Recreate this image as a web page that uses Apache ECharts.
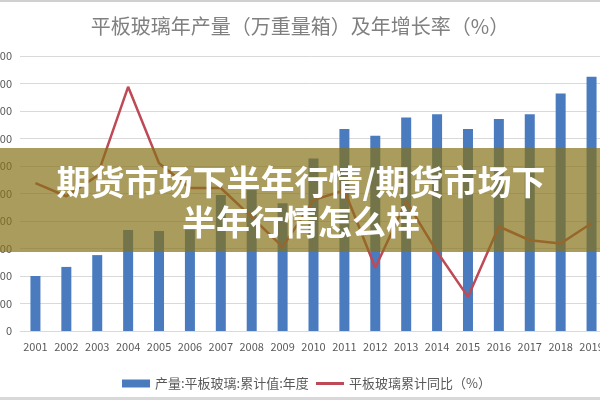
<!DOCTYPE html>
<html>
<head>
<meta charset="utf-8">
<script src="https://cdn.jsdelivr.net/npm/echarts@6/dist/echarts.min.js"></script>
<style>
  html, body { margin: 0; padding: 0; background: #fff; }
  #chart { width: 600px; height: 400px; }
</style>
</head>
<body>
<div id="chart"></div>
<script>
// 年份
const years = ['2001', '2002', '2003', '2004', '2005', '2006', '2007', '2008', '2009', '2010',
  '2011', '2012', '2013', '2014', '2015', '2016', '2017', '2018', '2019'];
// 产量（万重量箱）
const output = [20000, 23300, 27600, 36700, 36400, 36900, 49500, 51300, 46500, 62700,
  73500, 71000, 77600, 78800, 73500, 77100, 78800, 86400, 92500];
// 同比（%）
const growth = [6.9, 4.5, 8.2, 24.4, 10.5, 6.0, 6.0, 0.7, -4.7, 3.8,
  5.6, -8.5, 3.6, -5.6, -13.8, -1.0, -3.5, -4.1, -0.4];

const titleText = '平板玻璃年产量（万重量箱）及年增长率（%）';
const barName = '产量:平板玻璃:累计值:年度';
const lineName = '平板玻璃累计同比（%）';
const bannerLines = ['期货市场下半年行情/期货市场下', '半年行情怎么样'];

const font = '"Noto Sans CJK SC", "Noto Sans", sans-serif';
const chart = echarts.init(document.getElementById('chart'));

chart.setOption({
  backgroundColor: '#fff',
  animation: false,
  textStyle: { fontFamily: font },
  title: {
    text: titleText,
    left: 'center',
    top: 11,
    textStyle: { fontSize: 20, fontWeight: 'normal', color: '#808080', fontFamily: font }
  },
  // 两个图例，分别控制图标高度
  legend: [
    {
      top: 372,
      left: 117,
      itemWidth: 28,
      itemHeight: 8,
      textStyle: { fontSize: 13, color: '#595959' },
      data: [{ name: barName, icon: 'rect' }]
    },
    {
      top: 372,
      left: 311,
      itemWidth: 28,
      itemHeight: 3,
      textStyle: { fontSize: 13, color: '#595959' },
      data: [{ name: lineName, icon: 'rect' }]
    }
  ],
  grid: {
    left: 20,
    top: 56,
    width: 587,
    height: 275,
    containLabel: false,
    outerBoundsMode: 'none'
  },
  xAxis: {
    type: 'category',
    data: years,
    axisLine: { lineStyle: { color: '#d9d9d9' } },
    axisTick: { show: false },
    axisLabel: { color: '#595959', fontSize: 11, margin: 10, interval: 0 }
  },
  yAxis: [
    {
      type: 'value',
      min: 0,
      max: 100000,
      interval: 10000,
      axisLine: { show: false },
      axisTick: { show: false },
      axisLabel: { color: '#595959', fontSize: 11, margin: 8 },
      splitLine: { lineStyle: { color: '#d9d9d9' } }
    },
    {
      type: 'value',
      min: -20,
      max: 30,
      interval: 5,
      axisLine: { show: false },
      axisTick: { show: false },
      axisLabel: { show: false },
      splitLine: { show: false }
    }
  ],
  series: [
    {
      name: barName,
      type: 'bar',
      data: output,
      barWidth: 10,
      itemStyle: { color: '#4a7bbf' }
    },
    {
      name: lineName,
      type: 'line',
      yAxisIndex: 1,
      data: growth,
      symbol: 'none',
      lineStyle: { color: '#bd4a54', width: 2.5 },
      itemStyle: { color: '#bd4a54' }
    }
  ],
  graphic: [
    { type: 'rect', z: 100, shape: { x: 0, y: 0, width: 600, height: 2 }, style: { fill: '#d0d0d0' } },
    { type: 'rect', z: 100, shape: { x: 0, y: 397, width: 600, height: 3 }, style: { fill: '#d8d8d8' } },
    {
      type: 'rect', z: 100,
      shape: { x: 0, y: 148, width: 600, height: 104 },
      style: { fill: 'rgba(134,114,24,0.7)' }
    },
    {
      type: 'text', z: 101, x: 301, y: 182,
      style: {
        text: bannerLines[0], fill: '#fff', font: 'bold 34px ' + font,
        align: 'center', verticalAlign: 'middle'
      }
    },
    {
      type: 'text', z: 101, x: 301, y: 222,
      style: {
        text: bannerLines[1], fill: '#fff', font: 'bold 34px ' + font,
        align: 'center', verticalAlign: 'middle'
      }
    }
  ]
});
</script>
</body>
</html>
